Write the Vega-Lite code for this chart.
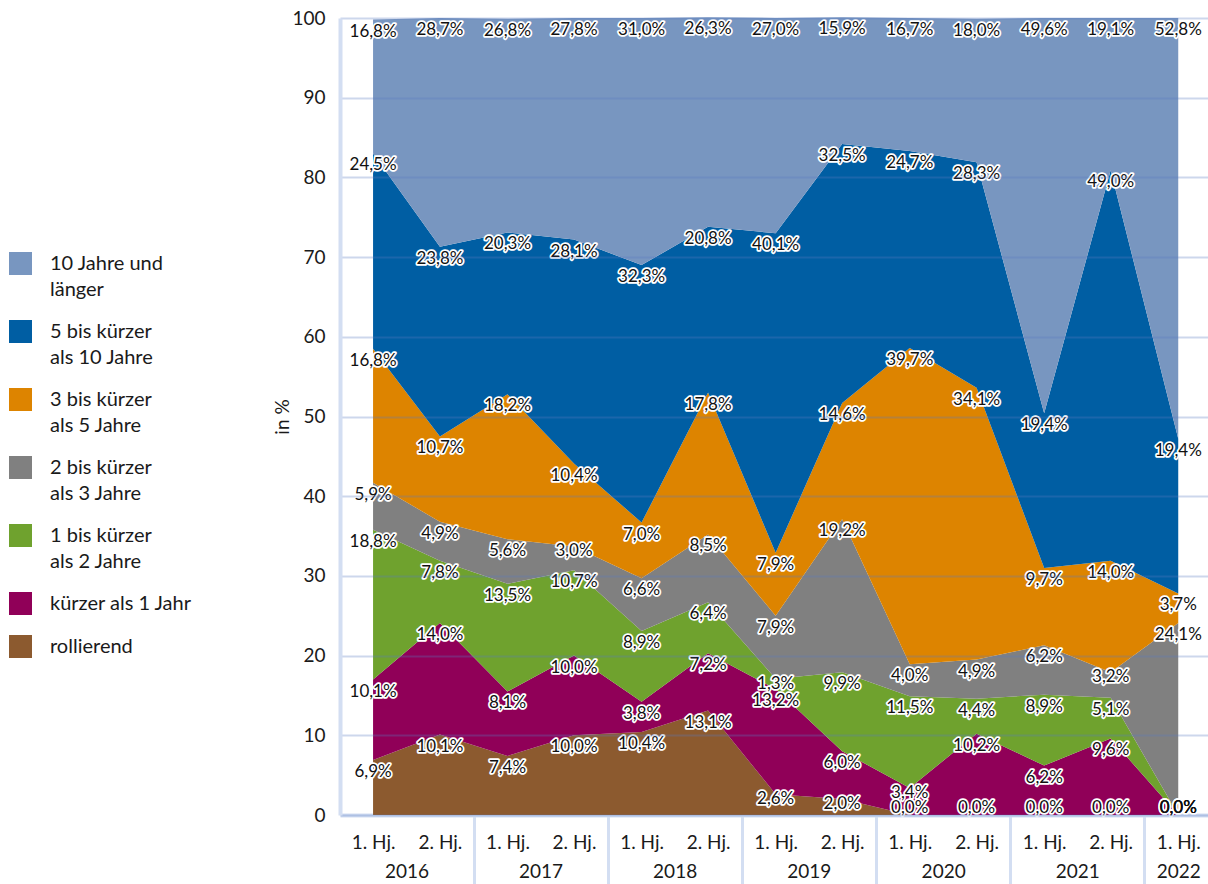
{
  "$schema": "https://vega.github.io/schema/vega-lite/v6.json",
  "autosize": {"type": "none"},
  "padding": {"left": 340, "top": 18, "right": 0, "bottom": 69},
  "width": 868,
  "height": 797,
  "config": {
    "font": "Lato",
    "view": {"stroke": null},
    "style": {"guide-label": {"lineHeight": 26}}
  },
  "data": {
    "values": [
      {"periode": "2016-01-01", "kat": "rollierend", "wert": 6.9},
      {"periode": "2016-01-01", "kat": "kürzer als 1 Jahr", "wert": 10.1},
      {"periode": "2016-01-01", "kat": "1 bis kürzer als 2 Jahre", "wert": 18.8},
      {"periode": "2016-01-01", "kat": "2 bis kürzer als 3 Jahre", "wert": 5.9},
      {"periode": "2016-01-01", "kat": "3 bis kürzer als 5 Jahre", "wert": 16.8},
      {"periode": "2016-01-01", "kat": "5 bis kürzer als 10 Jahre", "wert": 24.5},
      {"periode": "2016-01-01", "kat": "10 Jahre und länger", "wert": 16.8},
      {"periode": "2016-07-01", "kat": "rollierend", "wert": 10.1},
      {"periode": "2016-07-01", "kat": "kürzer als 1 Jahr", "wert": 14.0},
      {"periode": "2016-07-01", "kat": "1 bis kürzer als 2 Jahre", "wert": 7.8},
      {"periode": "2016-07-01", "kat": "2 bis kürzer als 3 Jahre", "wert": 4.9},
      {"periode": "2016-07-01", "kat": "3 bis kürzer als 5 Jahre", "wert": 10.7},
      {"periode": "2016-07-01", "kat": "5 bis kürzer als 10 Jahre", "wert": 23.8},
      {"periode": "2016-07-01", "kat": "10 Jahre und länger", "wert": 28.7},
      {"periode": "2017-01-01", "kat": "rollierend", "wert": 7.4},
      {"periode": "2017-01-01", "kat": "kürzer als 1 Jahr", "wert": 8.1},
      {"periode": "2017-01-01", "kat": "1 bis kürzer als 2 Jahre", "wert": 13.5},
      {"periode": "2017-01-01", "kat": "2 bis kürzer als 3 Jahre", "wert": 5.6},
      {"periode": "2017-01-01", "kat": "3 bis kürzer als 5 Jahre", "wert": 18.2},
      {"periode": "2017-01-01", "kat": "5 bis kürzer als 10 Jahre", "wert": 20.3},
      {"periode": "2017-01-01", "kat": "10 Jahre und länger", "wert": 26.8},
      {"periode": "2017-07-01", "kat": "rollierend", "wert": 10.0},
      {"periode": "2017-07-01", "kat": "kürzer als 1 Jahr", "wert": 10.0},
      {"periode": "2017-07-01", "kat": "1 bis kürzer als 2 Jahre", "wert": 10.7},
      {"periode": "2017-07-01", "kat": "2 bis kürzer als 3 Jahre", "wert": 3.0},
      {"periode": "2017-07-01", "kat": "3 bis kürzer als 5 Jahre", "wert": 10.4},
      {"periode": "2017-07-01", "kat": "5 bis kürzer als 10 Jahre", "wert": 28.1},
      {"periode": "2017-07-01", "kat": "10 Jahre und länger", "wert": 27.8},
      {"periode": "2018-01-01", "kat": "rollierend", "wert": 10.4},
      {"periode": "2018-01-01", "kat": "kürzer als 1 Jahr", "wert": 3.8},
      {"periode": "2018-01-01", "kat": "1 bis kürzer als 2 Jahre", "wert": 8.9},
      {"periode": "2018-01-01", "kat": "2 bis kürzer als 3 Jahre", "wert": 6.6},
      {"periode": "2018-01-01", "kat": "3 bis kürzer als 5 Jahre", "wert": 7.0},
      {"periode": "2018-01-01", "kat": "5 bis kürzer als 10 Jahre", "wert": 32.3},
      {"periode": "2018-01-01", "kat": "10 Jahre und länger", "wert": 31.0},
      {"periode": "2018-07-01", "kat": "rollierend", "wert": 13.1},
      {"periode": "2018-07-01", "kat": "kürzer als 1 Jahr", "wert": 7.2},
      {"periode": "2018-07-01", "kat": "1 bis kürzer als 2 Jahre", "wert": 6.4},
      {"periode": "2018-07-01", "kat": "2 bis kürzer als 3 Jahre", "wert": 8.5},
      {"periode": "2018-07-01", "kat": "3 bis kürzer als 5 Jahre", "wert": 17.8},
      {"periode": "2018-07-01", "kat": "5 bis kürzer als 10 Jahre", "wert": 20.8},
      {"periode": "2018-07-01", "kat": "10 Jahre und länger", "wert": 26.3},
      {"periode": "2019-01-01", "kat": "rollierend", "wert": 2.6},
      {"periode": "2019-01-01", "kat": "kürzer als 1 Jahr", "wert": 13.2},
      {"periode": "2019-01-01", "kat": "1 bis kürzer als 2 Jahre", "wert": 1.3},
      {"periode": "2019-01-01", "kat": "2 bis kürzer als 3 Jahre", "wert": 7.9},
      {"periode": "2019-01-01", "kat": "3 bis kürzer als 5 Jahre", "wert": 7.9},
      {"periode": "2019-01-01", "kat": "5 bis kürzer als 10 Jahre", "wert": 40.1},
      {"periode": "2019-01-01", "kat": "10 Jahre und länger", "wert": 27.0},
      {"periode": "2019-07-01", "kat": "rollierend", "wert": 2.0},
      {"periode": "2019-07-01", "kat": "kürzer als 1 Jahr", "wert": 6.0},
      {"periode": "2019-07-01", "kat": "1 bis kürzer als 2 Jahre", "wert": 9.9},
      {"periode": "2019-07-01", "kat": "2 bis kürzer als 3 Jahre", "wert": 19.2},
      {"periode": "2019-07-01", "kat": "3 bis kürzer als 5 Jahre", "wert": 14.6},
      {"periode": "2019-07-01", "kat": "5 bis kürzer als 10 Jahre", "wert": 32.5},
      {"periode": "2019-07-01", "kat": "10 Jahre und länger", "wert": 15.9},
      {"periode": "2020-01-01", "kat": "rollierend", "wert": 0.0},
      {"periode": "2020-01-01", "kat": "kürzer als 1 Jahr", "wert": 3.4},
      {"periode": "2020-01-01", "kat": "1 bis kürzer als 2 Jahre", "wert": 11.5},
      {"periode": "2020-01-01", "kat": "2 bis kürzer als 3 Jahre", "wert": 4.0},
      {"periode": "2020-01-01", "kat": "3 bis kürzer als 5 Jahre", "wert": 39.7},
      {"periode": "2020-01-01", "kat": "5 bis kürzer als 10 Jahre", "wert": 24.7},
      {"periode": "2020-01-01", "kat": "10 Jahre und länger", "wert": 16.7},
      {"periode": "2020-07-01", "kat": "rollierend", "wert": 0.0},
      {"periode": "2020-07-01", "kat": "kürzer als 1 Jahr", "wert": 10.2},
      {"periode": "2020-07-01", "kat": "1 bis kürzer als 2 Jahre", "wert": 4.4},
      {"periode": "2020-07-01", "kat": "2 bis kürzer als 3 Jahre", "wert": 4.9},
      {"periode": "2020-07-01", "kat": "3 bis kürzer als 5 Jahre", "wert": 34.1},
      {"periode": "2020-07-01", "kat": "5 bis kürzer als 10 Jahre", "wert": 28.3},
      {"periode": "2020-07-01", "kat": "10 Jahre und länger", "wert": 18.0},
      {"periode": "2021-01-01", "kat": "rollierend", "wert": 0.0},
      {"periode": "2021-01-01", "kat": "kürzer als 1 Jahr", "wert": 6.2},
      {"periode": "2021-01-01", "kat": "1 bis kürzer als 2 Jahre", "wert": 8.9},
      {"periode": "2021-01-01", "kat": "2 bis kürzer als 3 Jahre", "wert": 6.2},
      {"periode": "2021-01-01", "kat": "3 bis kürzer als 5 Jahre", "wert": 9.7},
      {"periode": "2021-01-01", "kat": "5 bis kürzer als 10 Jahre", "wert": 19.4},
      {"periode": "2021-01-01", "kat": "10 Jahre und länger", "wert": 49.6},
      {"periode": "2021-07-01", "kat": "rollierend", "wert": 0.0},
      {"periode": "2021-07-01", "kat": "kürzer als 1 Jahr", "wert": 9.6},
      {"periode": "2021-07-01", "kat": "1 bis kürzer als 2 Jahre", "wert": 5.1},
      {"periode": "2021-07-01", "kat": "2 bis kürzer als 3 Jahre", "wert": 3.2},
      {"periode": "2021-07-01", "kat": "3 bis kürzer als 5 Jahre", "wert": 14.0},
      {"periode": "2021-07-01", "kat": "5 bis kürzer als 10 Jahre", "wert": 49.0},
      {"periode": "2021-07-01", "kat": "10 Jahre und länger", "wert": 19.1},
      {"periode": "2022-01-01", "kat": "rollierend", "wert": 0.0},
      {"periode": "2022-01-01", "kat": "kürzer als 1 Jahr", "wert": 0.0},
      {"periode": "2022-01-01", "kat": "1 bis kürzer als 2 Jahre", "wert": 0.0},
      {"periode": "2022-01-01", "kat": "2 bis kürzer als 3 Jahre", "wert": 24.1},
      {"periode": "2022-01-01", "kat": "3 bis kürzer als 5 Jahre", "wert": 3.7},
      {"periode": "2022-01-01", "kat": "5 bis kürzer als 10 Jahre", "wert": 19.4},
      {"periode": "2022-01-01", "kat": "10 Jahre und länger", "wert": 52.8}
    ],
    "format": {"parse": {"periode": "utc:'%Y-%m-%d'"}}
  },
  "transform": [
    {"calculate": "indexof(['rollierend', 'kürzer als 1 Jahr', '1 bis kürzer als 2 Jahre', '2 bis kürzer als 3 Jahre', '3 bis kürzer als 5 Jahre', '5 bis kürzer als 10 Jahre', '10 Jahre und länger'], datum.kat)", "as": "rang"},
    {"calculate": "replace(format(datum.wert, '.1f'), '.', ',') + '%'", "as": "label"}
  ],
  "resolve": {"axis": {"x": "independent"}},
  "layer": [
    {
      "mark": {"type": "area", "interpolate": "linear", "opacity": 1},
      "encoding": {
        "x": {
          "field": "periode", "type": "temporal",
          "scale": {"type": "utc", "domain": [{"year": 2015, "month": 10, "date": 3, "utc": true}, {"year": 2022, "month": 3, "date": 23, "utc": true}]},
          "axis": {
            "orient": "bottom",
            "values": [
              {"year": 2016, "month": 1, "date": 1, "utc": true}, {"year": 2016, "month": 7, "date": 1, "utc": true},
              {"year": 2017, "month": 1, "date": 1, "utc": true}, {"year": 2017, "month": 7, "date": 1, "utc": true},
              {"year": 2018, "month": 1, "date": 1, "utc": true}, {"year": 2018, "month": 7, "date": 1, "utc": true},
              {"year": 2019, "month": 1, "date": 1, "utc": true}, {"year": 2019, "month": 7, "date": 1, "utc": true},
              {"year": 2020, "month": 1, "date": 1, "utc": true}, {"year": 2020, "month": 7, "date": 1, "utc": true},
              {"year": 2021, "month": 1, "date": 1, "utc": true}, {"year": 2021, "month": 7, "date": 1, "utc": true},
              {"year": 2022, "month": 1, "date": 1, "utc": true}
            ],
            "labelExpr": "utcmonth(datum.value) == 0 ? '1. Hj.' : '2. Hj.'",
            "ticks": false, "grid": false, "title": null,
            "labelFlush": false, "labelOverlap": false, "labelBound": false,
            "labelFontSize": 19, "labelColor": "#1a1a1a", "labelPadding": 18,
            "domain": true, "domainColor": "#d3def2", "domainWidth": 4
          }
        },
        "y": {
          "field": "wert", "type": "quantitative", "stack": "zero", "title": "in %",
          "scale": {"domain": [0, 100], "nice": false},
          "axis": {
            "values": [0, 10, 20, 30, 40, 50, 60, 70, 80, 90, 100],
            "grid": true, "gridColor": "#5a7ac0", "gridOpacity": 0.3, "gridWidth": 2,
            "ticks": false, "domain": true, "domainColor": "#d3def2", "domainWidth": 4,
            "labelFontSize": 19, "labelColor": "#1a1a1a", "labelPadding": 15,
            "titleFontSize": 19, "titleFontWeight": "normal", "titleColor": "#1a1a1a", "titlePadding": -1,
            "zindex": 1
          }
        },
        "color": {
          "field": "kat", "type": "nominal",
          "scale": {
            "domain": ["10 Jahre und länger", "5 bis kürzer als 10 Jahre", "3 bis kürzer als 5 Jahre", "2 bis kürzer als 3 Jahre", "1 bis kürzer als 2 Jahre", "kürzer als 1 Jahr", "rollierend"],
            "range": ["#7896c0", "#005ea3", "#dd8400", "#808080", "#6fa22e", "#900058", "#8c5a2f"]
          },
          "legend": {
            "orient": "none", "legendX": -331, "legendY": 234, "padding": 0,
            "title": null, "symbolType": "square", "symbolSize": 529, "symbolStrokeWidth": 0, "symbolOpacity": 1,
            "labelFontSize": 20, "labelColor": "#1a1a1a", "labelOffset": 18, "labelLimit": 300,
            "rowPadding": 20,
            "labelExpr": "datum.label == '10 Jahre und länger' ? ['10 Jahre und', 'länger'] : indexof(datum.label, ' bis kürzer ') > 0 ? [slice(datum.label, 0, indexof(datum.label, ' als')), slice(datum.label, indexof(datum.label, ' als') + 1)] : datum.label"
          }
        },
        "order": {"field": "rang", "type": "quantitative"}
      }
    },
    {
      "transform": [{"filter": "datum.wert > 0"}],
      "mark": {"type": "text", "fontSize": 17, "baseline": "middle", "align": "center", "dy": {"expr": "datum.wert < 3.5 ? 5 : 12"}, "stroke": "white", "strokeWidth": 3.5, "strokeJoin": "round", "fill": "white"},
      "encoding": {
        "x": {
          "field": "periode", "type": "temporal",
          "scale": {"type": "utc", "domain": [{"year": 2015, "month": 10, "date": 3, "utc": true}, {"year": 2022, "month": 3, "date": 23, "utc": true}]},
          "axis": {
            "orient": "bottom",
            "values": [
              {"year": 2016, "month": 4, "date": 1, "utc": true}, {"year": 2017, "month": 4, "date": 1, "utc": true},
              {"year": 2018, "month": 4, "date": 1, "utc": true}, {"year": 2019, "month": 4, "date": 1, "utc": true},
              {"year": 2020, "month": 4, "date": 1, "utc": true}, {"year": 2021, "month": 4, "date": 1, "utc": true},
              {"year": 2022, "month": 1, "date": 1, "utc": true}
            ],
            "labelExpr": "'' + utcyear(datum.value)",
            "ticks": false, "grid": false, "domain": false, "title": null,
            "labelFlush": false, "labelOverlap": false, "labelBound": false,
            "labelFontSize": 19, "labelColor": "#1a1a1a", "labelPadding": 47
          }
        },
        "y": {"field": "wert", "type": "quantitative", "stack": "zero", "title": "in %", "scale": {"domain": [0, 100], "nice": false}},
        "detail": {"field": "kat"},
        "order": {"field": "rang", "type": "quantitative"},
        "text": {"field": "label"}
      }
    },
    {
      "transform": [{"filter": "datum.wert > 0"}],
      "mark": {"type": "text", "fontSize": 17, "baseline": "middle", "align": "center", "dy": {"expr": "datum.wert < 3.5 ? 5 : 12"}, "fill": "#111111"},
      "encoding": {
        "x": {
          "field": "periode", "type": "temporal",
          "scale": {"type": "utc", "domain": [{"year": 2015, "month": 10, "date": 3, "utc": true}, {"year": 2022, "month": 3, "date": 23, "utc": true}]},
          "axis": {
            "orient": "bottom",
            "values": [
              {"year": 2016, "month": 10, "date": 1, "utc": true}, {"year": 2017, "month": 10, "date": 1, "utc": true},
              {"year": 2018, "month": 10, "date": 1, "utc": true}, {"year": 2019, "month": 10, "date": 1, "utc": true},
              {"year": 2020, "month": 10, "date": 1, "utc": true}, {"year": 2021, "month": 10, "date": 1, "utc": true}
            ],
            "labels": false, "ticks": true, "tickSize": 70, "tickColor": "#d3def2", "tickWidth": 3,
            "grid": false, "domain": false, "title": null
          }
        },
        "y": {"field": "wert", "type": "quantitative", "stack": "zero", "title": "in %", "scale": {"domain": [0, 100], "nice": false}},
        "detail": {"field": "kat"},
        "order": {"field": "rang", "type": "quantitative"},
        "text": {"field": "label"}
      }
    },
    {
      "transform": [{"filter": "datum.wert == 0"}],
      "mark": {"type": "text", "fontSize": 17, "baseline": "middle", "align": "center", "dy": -7, "stroke": "white", "strokeWidth": 3.5, "strokeJoin": "round", "fill": "white"},
      "encoding": {
        "x": {
          "field": "periode", "type": "temporal", "axis": null,
          "scale": {"type": "utc", "domain": [{"year": 2015, "month": 10, "date": 3, "utc": true}, {"year": 2022, "month": 3, "date": 23, "utc": true}]}
        },
        "y": {"field": "wert", "type": "quantitative", "stack": "zero", "title": "in %", "scale": {"domain": [0, 100], "nice": false}},
        "detail": {"field": "kat"},
        "order": {"field": "rang", "type": "quantitative"},
        "text": {"field": "label"}
      }
    },
    {
      "transform": [{"filter": "datum.wert == 0"}],
      "mark": {"type": "text", "fontSize": 17, "baseline": "middle", "align": "center", "dy": -7, "fill": "#111111"},
      "encoding": {
        "x": {
          "field": "periode", "type": "temporal", "axis": null,
          "scale": {"type": "utc", "domain": [{"year": 2015, "month": 10, "date": 3, "utc": true}, {"year": 2022, "month": 3, "date": 23, "utc": true}]}
        },
        "y": {"field": "wert", "type": "quantitative", "stack": "zero", "title": "in %", "scale": {"domain": [0, 100], "nice": false}},
        "detail": {"field": "kat"},
        "order": {"field": "rang", "type": "quantitative"},
        "text": {"field": "label"}
      }
    }
  ]
}
